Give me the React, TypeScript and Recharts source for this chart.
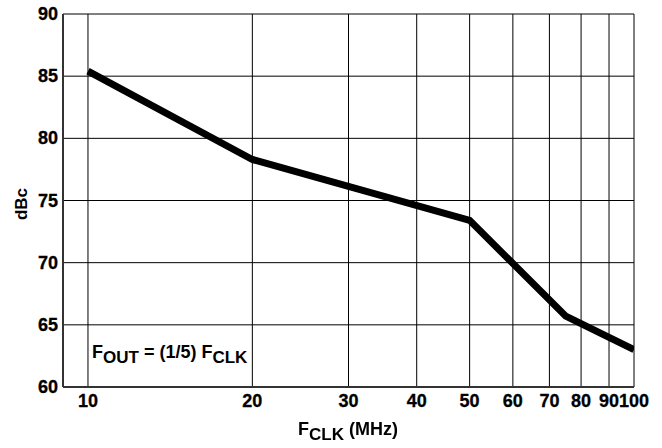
import React from "react";
import {
  LineChart,
  Line,
  XAxis,
  YAxis,
  CartesianGrid,
} from "recharts";

const fclk = [10, 20, 50, 75, 100];
const dbc = [85.4, 78.3, 73.4, 65.7, 63.0];
const xTicks = [10, 20, 30, 40, 50, 60, 70, 80, 90, 100];
const yTicks = [60, 65, 70, 75, 80, 85, 90];

const data = fclk.map((f, i) => ({ f, v: dbc[i] }));

const font = "'Liberation Sans', Arial, sans-serif";
const subStyle = { fontSize: 17, verticalAlign: -5 };

// tick labels drawn by hand so size/weight are exact
const XTick = (props: any) => (
  <text
    x={props.x}
    y={props.y}
    dy={13}
    textAnchor="middle"
    fill="#000"
    stroke="#000"
    strokeWidth={0.3}
    fontSize={18}
    fontWeight={700}
    fontFamily={font}
  >
    {props.payload.value}
  </text>
);

const YTick = (props: any) => (
  <text
    x={props.x}
    y={props.y}
    dy={6}
    textAnchor="end"
    fill="#000"
    stroke="#000"
    strokeWidth={0.3}
    fontSize={18}
    fontWeight={700}
    fontFamily={font}
  >
    {props.payload.value}
  </text>
);

export default function App() {
  return (
    <div
      style={{
        position: "fixed",
        left: 0,
        top: 0,
        width: 662,
        height: 448,
        background: "#fff",
        fontFamily: font,
      }}
    >
      <LineChart
        width={662}
        height={448}
        data={data}
        margin={{ top: 14, right: 28, bottom: 0, left: 0 }}
      >
        <CartesianGrid stroke="#000" strokeWidth={1} />
        <XAxis
          dataKey="f"
          type="number"
          scale="log"
          domain={[9, 100]}
          ticks={xTicks}
          interval={0}
          allowDataOverflow
          height={61}
          tickLine={false}
          tickSize={6}
          tickMargin={1}
          axisLine={{ stroke: "#333", strokeWidth: 2 }}
          tick={<XTick />}
        />
        <YAxis
          type="number"
          domain={[60, 90]}
          ticks={yTicks}
          interval={0}
          width={63}
          tickLine={false}
          tickSize={5}
          tickMargin={0}
          axisLine={{ stroke: "#333", strokeWidth: 2 }}
          tick={<YTick />}
        />
        <Line
          dataKey="v"
          stroke="#000"
          strokeWidth={7}
          dot={false}
          type="linear"
          isAnimationActive={false}
        />
      </LineChart>
      <div
        style={{
          position: "absolute",
          left: 2,
          top: 193,
          width: 40,
          height: 22,
          transform: "rotate(-90deg)",
          textAlign: "center",
          fontSize: 17,
          fontWeight: 700,
          lineHeight: "22px",
          color: "#000",
        }}
      >
        dBc
      </div>
      <div
        style={{
          position: "absolute",
          left: 92,
          top: 341,
          fontSize: 18,
          fontWeight: 700,
          color: "#000",
          whiteSpace: "nowrap",
          lineHeight: "22px",
        }}
      >
        F<sub style={subStyle}>OUT</sub> = (1/5) F<sub style={subStyle}>CLK</sub>
      </div>
      <div
        style={{
          position: "absolute",
          left: 0,
          width: 696,
          top: 418,
          textAlign: "center",
          fontSize: 18,
          fontWeight: 700,
          color: "#000",
          whiteSpace: "nowrap",
          lineHeight: "22px",
        }}
      >
        F<sub style={subStyle}>CLK</sub> (MHz)
      </div>
    </div>
  );
}
